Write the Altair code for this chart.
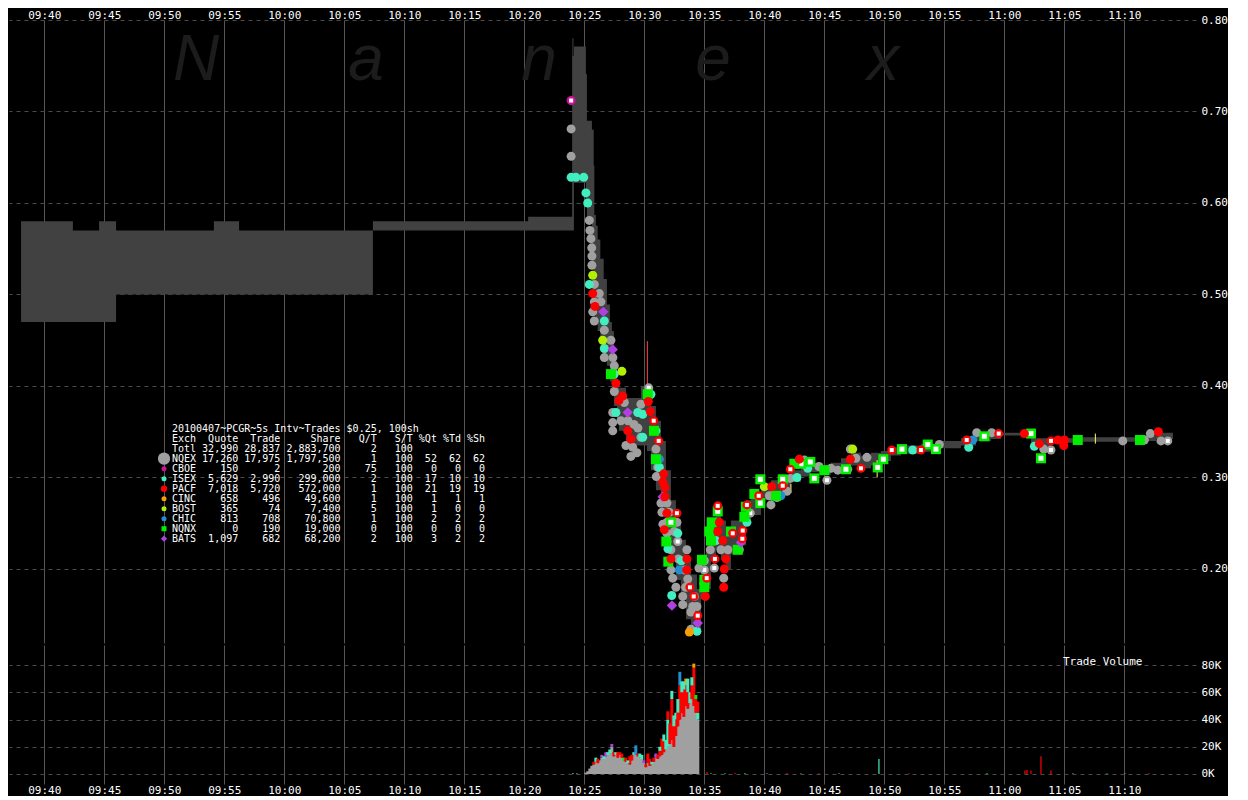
import altair as alt
import pandas as pd

# ------------------------------------------------------------------ data
EXCHANGES = ["NQEX", "CBOE", "ISEX", "PACF", "CINC", "BOST", "CHIC", "NQNX", "BATS"]

# NBBO band (step-after): time, low, high
band_times = ["09:38:04", "09:42:23", "09:44:34", "09:45:59", "09:54:08", "09:56:14", "10:07:23", "10:20:19",
              "10:23:59", "10:24:08", "10:24:23", "10:24:43", "10:25:08", "10:25:13", "10:25:38", "10:25:47",
              "10:25:50", "10:25:58", "10:26:07", "10:26:20", "10:26:37", "10:26:53", "10:27:08", "10:27:18",
              "10:27:28", "10:27:43", "10:27:53", "10:28:28", "10:29:08", "10:29:43", "10:30:13", "10:30:33",
              "10:30:58", "10:31:23", "10:31:48", "10:32:13", "10:32:38", "10:33:03", "10:33:28", "10:33:53",
              "10:34:23", "10:34:43", "10:35:08", "10:35:33", "10:35:58", "10:36:23", "10:36:48", "10:37:13",
              "10:38:03", "10:38:28", "10:38:53", "10:39:43", "10:40:33", "10:41:23", "10:42:13", "10:43:03",
              "10:43:53", "10:44:43", "10:45:33", "10:46:23", "10:47:13", "10:48:03", "10:48:53", "10:49:43",
              "10:50:33", "10:51:23", "10:53:03", "10:54:43", "10:56:23", "10:57:38", "10:58:53", "10:59:43",
              "11:02:13", "11:03:53", "11:06:23", "11:11:23", "11:12:38", "11:14:03"]
band_high = [0.58, 0.57, 0.58, 0.57, 0.58, 0.57, 0.58, 0.585,
             0.761, 0.771, 0.771, 0.771, 0.741, 0.690, 0.680, 0.641, 0.587, 0.575,
             0.560, 0.539, 0.517, 0.489, 0.470, 0.460, 0.427, 0.405, 0.398, 0.387,
             0.387, 0.400, 0.389, 0.378, 0.362, 0.340, 0.308, 0.275, 0.254, 0.232,
             0.210, 0.194, 0.178, 0.215, 0.221, 0.253, 0.264, 0.253, 0.243, 0.253,
             0.259, 0.275, 0.281, 0.291, 0.297, 0.299, 0.308, 0.316, 0.316, 0.313,
             0.316, 0.321, 0.327, 0.324, 0.327, 0.329, 0.333, 0.335, 0.337, 0.340,
             0.343, 0.348, 0.349, 0.349, 0.343, 0.343, 0.344, 0.346, 0.349, 0.349]
band_low = [0.47, 0.47, 0.47, 0.50, 0.50, 0.50, 0.57, 0.57,
            0.570, 0.622, 0.622, 0.622, 0.600, 0.579, 0.530, 0.503, 0.481, 0.470,
            0.460, 0.449, 0.432, 0.422, 0.405, 0.389, 0.378, 0.362, 0.351, 0.340,
            0.335, 0.335, 0.329, 0.308, 0.286, 0.264, 0.243, 0.210, 0.188, 0.167,
            0.145, 0.134, 0.129, 0.167, 0.178, 0.210, 0.221, 0.210, 0.199, 0.216,
            0.226, 0.253, 0.259, 0.275, 0.281, 0.284, 0.295, 0.301, 0.306, 0.303,
            0.306, 0.308, 0.313, 0.310, 0.313, 0.318, 0.324, 0.326, 0.328, 0.332,
            0.335, 0.340, 0.342, 0.346, 0.333, 0.338, 0.339, 0.340, 0.342, 0.342]

# trades per exchange: (time, price, flagged-with-white-centre)
trades_nqex = [
    ("10:23:54", 0.681, 0), ("10:23:54", 0.651, 0), ("10:25:25", 0.581, 0), ("10:25:28", 0.570, 0),
    ("10:25:33", 0.561, 0), ("10:25:37", 0.551, 0), ("10:25:38", 0.542, 0), ("10:25:38", 0.532, 0),
    ("10:25:50", 0.511, 0), ("10:26:15", 0.501, 0), ("10:25:50", 0.492, 0), ("10:26:23", 0.492, 0),
    ("10:25:42", 0.481, 0), ("10:25:50", 0.471, 0), ("10:26:40", 0.461, 0), ("10:27:13", 0.450, 0),
    ("10:26:40", 0.431, 0), ("10:27:23", 0.431, 0), ("10:27:30", 0.422, 0), ("10:27:30", 0.394, 0),
    ("10:28:20", 0.382, 0), ("10:27:22", 0.371, 0), ("10:27:22", 0.360, 0), ("10:27:22", 0.351, 0),
    ("10:28:38", 0.362, 0), ("10:29:08", 0.358, 0), ("10:29:28", 0.354, 0), ("10:29:43", 0.380, 0),
    ("10:29:43", 0.344, 0), ("10:29:02", 0.333, 0), ("10:28:53", 0.323, 0), ("10:28:03", 0.362, 0),
    ("10:28:28", 0.335, 0), ("10:29:23", 0.327, 0), ("10:30:22", 0.398, 1), ("10:30:58", 0.331, 0),
    ("10:31:07", 0.311, 0), ("10:31:23", 0.272, 0), ("10:31:53", 0.272, 0), ("10:32:43", 0.251, 0),
    ("10:31:53", 0.251, 0), ("10:31:53", 0.239, 0), ("10:32:47", 0.230, 1), ("10:31:53", 0.230, 0),
    ("10:32:13", 0.221, 0), ("10:33:33", 0.221, 0), ("10:32:50", 0.211, 0), ("10:32:13", 0.199, 0),
    ("10:32:22", 0.190, 0), ("10:33:37", 0.189, 0), ("10:32:38", 0.180, 0), ("10:33:12", 0.170, 0),
    ("10:33:12", 0.161, 0), ("10:34:23", 0.159, 0), ("10:34:02", 0.159, 0), ("10:33:53", 0.153, 0),
    ("10:33:53", 0.134, 0), ("10:35:00", 0.209, 0), ("10:35:00", 0.199, 1), ("10:34:33", 0.201, 0),
    ("10:35:30", 0.221, 0), ("10:36:23", 0.221, 0), ("10:36:58", 0.221, 0), ("10:35:50", 0.201, 1),
    ("10:36:37", 0.190, 0), ("10:37:55", 0.221, 0), ("10:38:50", 0.261, 1), ("10:40:33", 0.270, 0),
    ("10:40:25", 0.280, 0), ("10:42:10", 0.299, 0), ("10:43:20", 0.319, 0), ("10:45:13", 0.297, 1),
    ("10:46:07", 0.308, 0), ("10:46:57", 0.309, 0), ("10:47:10", 0.331, 0), ("10:47:38", 0.321, 0),
    ("10:54:35", 0.336, 0), ("10:57:42", 0.349, 0), ("10:58:57", 0.349, 0), ("11:03:17", 0.331, 0),
    ("11:03:53", 0.330, 1), ("11:09:52", 0.340, 0), ("11:11:40", 0.341, 0), ("11:12:10", 0.348, 0),
    ("11:13:37", 0.340, 1), ("11:13:03", 0.340, 0), ("10:41:03", 0.278, 0), ("10:41:53", 0.285, 0),
    ("10:44:33", 0.312, 0), ("10:45:33", 0.310, 0), ("10:48:33", 0.322, 0),
    ("10:31:28", 0.262, 0), ("10:31:33", 0.249, 0), ("10:32:05", 0.262, 0), ("10:32:30", 0.241, 0),
    ("10:33:20", 0.199, 0), ("10:33:27", 0.180, 0), ("10:34:10", 0.170, 0), ("10:31:00", 0.301, 0),
]
trades_cboe = [("10:23:54", 0.712, 1)]
trades_isex = [
    ("10:23:54", 0.628, 0), ("10:24:18", 0.628, 0), ("10:24:57", 0.628, 0), ("10:25:08", 0.611, 0),
    ("10:25:17", 0.600, 0), ("10:25:25", 0.511, 0), ("10:26:40", 0.471, 0), ("10:26:40", 0.441, 0),
    ("10:27:30", 0.413, 0), ("10:27:38", 0.371, 0), ("10:29:52", 0.369, 0), ("10:29:27", 0.371, 0),
    ("10:29:52", 0.344, 0), ("10:30:33", 0.391, 0), ("10:30:58", 0.351, 0), ("10:31:15", 0.311, 0),
    ("10:32:47", 0.239, 0), ("10:32:17", 0.171, 0), ("10:34:23", 0.132, 0), ("10:35:58", 0.231, 0),
    ("10:38:33", 0.251, 0), ("10:42:43", 0.300, 0), ("10:43:37", 0.310, 0), ("10:52:22", 0.330, 0),
    ("10:57:02", 0.333, 0), ("11:02:30", 0.334, 0), ("10:31:58", 0.222, 0), ("10:33:05", 0.209, 0),
]
trades_pacf = [
    ("10:25:42", 0.501, 0), ("10:25:53", 0.487, 0), ("10:27:38", 0.403, 0), ("10:28:12", 0.389, 0),
    ("10:28:37", 0.351, 0), ("10:28:53", 0.342, 0), ("10:27:53", 0.384, 0), ("10:30:20", 0.383, 0),
    ("10:30:30", 0.372, 0), ("10:30:47", 0.362, 1), ("10:31:12", 0.340, 1), ("10:31:37", 0.304, 0),
    ("10:31:33", 0.295, 0), ("10:31:43", 0.289, 0), ("10:31:43", 0.279, 0), ("10:31:53", 0.261, 0),
    ("10:32:43", 0.261, 1), ("10:31:40", 0.243, 0), ("10:32:13", 0.211, 0), ("10:33:33", 0.211, 0),
    ("10:33:32", 0.199, 0), ("10:33:48", 0.180, 1), ("10:34:07", 0.170, 1), ("10:34:27", 0.149, 1),
    ("10:35:12", 0.190, 1), ("10:35:05", 0.170, 0), ("10:36:07", 0.269, 1), ("10:36:15", 0.251, 0),
    ("10:36:07", 0.241, 0), ("10:36:32", 0.231, 0), ("10:36:48", 0.211, 0), ("10:35:53", 0.211, 1),
    ("10:36:40", 0.200, 0), ("10:36:37", 0.180, 0), ("10:37:22", 0.239, 1), ("10:38:12", 0.242, 1),
    ("10:38:10", 0.233, 1), ("10:38:33", 0.270, 1), ("10:39:32", 0.280, 1), ("10:40:37", 0.290, 0),
    ("10:41:32", 0.291, 1), ("10:42:10", 0.309, 1), ("10:42:55", 0.320, 0), ("10:47:10", 0.320, 0),
    ("10:48:03", 0.310, 1), ("10:50:37", 0.330, 1), ("10:53:03", 0.330, 1), ("10:56:52", 0.341, 1),
    ("10:59:32", 0.348, 1), ("11:01:40", 0.348, 0), ("11:02:55", 0.337, 0), ("11:03:53", 0.340, 1),
    ("11:04:28", 0.341, 0), ("11:05:00", 0.341, 0), ("11:04:57", 0.335, 0), ("11:12:50", 0.350, 0),
]
trades_cinc = [("10:33:45", 0.131, 0)]
trades_bost = [("10:25:42", 0.521, 0), ("10:26:32", 0.450, 0), ("10:28:08", 0.416, 0),
               ("10:40:00", 0.290, 0), ("10:47:22", 0.331, 0)]
trades_chic = [("10:31:15", 0.320, 0), ("10:32:55", 0.199, 0), ("10:41:23", 0.280, 0), ("10:57:22", 0.341, 0)]
trades_nqnx = [
    ("10:27:13", 0.413, 0), ("10:30:17", 0.391, 0), ("10:30:48", 0.351, 0), ("10:30:58", 0.320, 0),
    ("10:32:13", 0.251, 1), ("10:34:48", 0.210, 0), ("10:35:00", 0.188, 0), ("10:35:00", 0.180, 0),
    ("10:36:07", 0.263, 1), ("10:35:37", 0.251, 0), ("10:35:25", 0.241, 0), ("10:35:33", 0.231, 0),
    ("10:37:13", 0.241, 0), ("10:37:47", 0.221, 0), ("10:38:28", 0.268, 0), ("10:38:20", 0.257, 0),
    ("10:39:40", 0.272, 1), ("10:39:10", 0.282, 0), ("10:39:40", 0.298, 1), ("10:40:58", 0.280, 0),
    ("10:41:32", 0.298, 1), ("10:43:03", 0.315, 1), ("10:42:30", 0.315, 0), ("10:43:50", 0.317, 1),
    ("10:44:10", 0.299, 1), ("10:45:00", 0.308, 0), ("10:46:48", 0.309, 1), ("10:49:27", 0.311, 1),
    ("10:49:55", 0.320, 1), ("10:51:28", 0.331, 1), ("10:53:37", 0.336, 1), ("10:54:18", 0.331, 1),
    ("10:58:20", 0.345, 1), ("11:02:13", 0.348, 1), ("11:03:03", 0.321, 1), ("11:06:07", 0.341, 0),
    ("11:11:18", 0.341, 0), ("10:31:50", 0.230, 0), ("10:32:00", 0.208, 0),
]
trades_bats = [("10:26:35", 0.481, 0), ("10:27:22", 0.440, 0), ("10:28:37", 0.371, 0), ("10:31:32", 0.279, 0),
               ("10:32:18", 0.160, 0), ("10:34:27", 0.141, 0), ("10:38:03", 0.229, 0)]

# thin high/low spikes
spike_times = ["10:24:03", "10:30:15", "10:42:13", "10:49:24", "11:07:35"]
spike_lo = [0.760, 0.398, 0.283, 0.300, 0.337]
spike_hi = [0.780, 0.449, 0.293, 0.319, 0.348]
spike_kind = ["band", "PACF", "other", "other", "other"]

# trade volume, 10-second buckets starting 10:25:00 (thousands of shares)
vol_start = "10:25:00"
vol_nqex = [1, 2, 4, 6, 7, 9, 8, 10, 12, 11, 13, 14, 15, 20, 13, 14, 12, 14, 12, 10,
            9, 8, 7, 10, 14, 14, 13, 12, 11, 8, 5, 8, 6, 7, 9, 12, 11, 13, 14, 16,
            18, 20, 22, 25, 20, 28, 35, 40, 45, 42, 50, 48, 52, 55, 50, 45, 40]
extra_idx = [4, 5, 6, 8, 10, 11, 14, 15, 16, 17, 18, 19, 20, 22, 23, 24, 25, 26, 27, 30,
             31, 32, 33, 34, 35, 36, 37, 38, 39, 40, 41, 42, 43, 44, 45, 45, 46, 47, 47, 48,
             49, 50, 50, 51, 52, 53, 54, 55, 55, 56,
             9, 12, 13, 21, 28, 29, 37, 39, 41, 43, 44, 46, 48, 49, 51, 53, 54, 56]
extra_exch = ["PACF", "ISEX", "PACF", "BATS", "BATS", "ISEX", "PACF", "ISEX", "PACF", "PACF",
              "PACF", "NQNX", "PACF", "PACF", "PACF", "ISEX", "CHIC", "PACF", "ISEX", "PACF",
              "PACF", "PACF", "ISEX", "PACF", "BATS", "PACF", "PACF", "PACF", "PACF", "ISEX",
              "ISEX", "PACF", "PACF", "PACF", "PACF", "ISEX", "PACF", "PACF", "CHIC", "PACF",
              "PACF", "PACF", "CINC", "PACF", "ISEX", "PACF", "PACF", "PACF", "NQNX", "ISEX",
              "ISEX", "ISEX", "BATS", "ISEX", "ISEX", "BATS", "ISEX", "ISEX", "PACF", "ISEX",
              "ISEX", "ISEX", "ISEX", "ISEX", "ISEX", "ISEX", "CINC", "PACF"]
extra_k = [2, 3, 3, 2, 3, 2, 3, 2, 4, 2, 3, 2, 3, 6, 4, 2, 7, 2, 3, 2,
           7, 5, 2, 3, 3, 3, 4, 12, 8, 7, 20, 15, 30, 15, 12, 5, 10, 25, 10, 15,
           20, 15, 5, 12, 8, 10, 28, 10, 3, 5,
           2, 3, 2, 2, 3, 2, 3, 5, 6, 6, 8, 10, 8, 6, 10, 6, 3, 8]
small_times = ["10:24:00", "10:24:20", "10:35:10", "10:35:30", "10:36:40", "10:37:30", "10:38:20", "10:40:10",
               "10:41:50", "10:43:00", "10:44:30", "10:46:10", "10:49:30", "10:52:00", "10:58:30", "11:01:40",
               "11:01:50", "11:02:10", "11:03:00", "11:03:50", "11:05:40", "11:08:30", "11:10:00", "11:12:00"]
small_k = [0.8, 0.5, 1.5, 0.8, 0.5, 1.0, 0.8, 0.8, 1.0, 0.6, 0.5, 0.5, 11.0, 0.5, 0.8, 2.5,
           3.0, 2.5, 13.0, 2.5, 0.5, 0.6, 0.5, 0.8]
small_exch = ["ISEX", "ISEX", "PACF", "NQNX", "ISEX", "PACF", "NQNX", "BATS", "PACF", "NQNX", "PACF", "NQEX",
              "ISEX", "PACF", "NQNX", "PACF", "PACF", "PACF", "PACF", "PACF", "NQEX", "NQNX", "NQEX", "PACF"]

# summary table
table_title = "20100407~PCGR~5s Intv~Trades $0.25, 100sh"
table_header = ["Exch", "Quote", "Trade", "Share", "Q/T", "S/T", "%Qt", "%Td", "%Sh"]
total_row = ["Totl", 32990, 28837, 2883700, 2, 100]
tab_quote = [17260, 150, 5629, 7018, 658, 365, 813, 0, 1097]
tab_trade = [17975, 2, 2990, 5720, 496, 74, 708, 190, 682]
tab_share = [1797500, 200, 299000, 572000, 49600, 7400, 70800, 19000, 68200]
tab_qt = [1, 75, 2, 1, 1, 5, 1, 0, 2]
tab_st = [100, 100, 100, 100, 100, 100, 100, 100, 100]
tab_pqt = [52, 0, 17, 21, 1, 1, 2, 0, 3]
tab_ptd = [62, 0, 10, 19, 1, 0, 2, 0, 2]
tab_psh = [62, 0, 10, 19, 1, 0, 2, 0, 2]

watermark = ["N", "a", "n", "e", "x"]

TICK_MINUTES = list(range(40, 131, 5))          # 09:40 ... 11:10
PRICE_TICKS = [0.20, 0.30, 0.40, 0.50, 0.60, 0.70, 0.80]
VOLUME_TICKS = [0, 20, 40, 60, 80]

# ------------------------------------------------------------------ styles / layout
COLORS = {"NQEX": "#a0a0a0", "CBOE": "#cc1199", "ISEX": "#40eec0", "PACF": "#ff0000", "CINC": "#f5a000",
          "BOST": "#b0f000", "CHIC": "#2090d0", "NQNX": "#00f000", "BATS": "#b040e0"}
SHAPES = {e: "circle" for e in EXCHANGES}
SHAPES["NQNX"] = "square"
SHAPES["BATS"] = "diamond"
SIZES = {e: 81 for e in EXCHANGES}
SIZES["NQNX"] = 100
SIZES["BATS"] = 110
WHITE_SIZES = {e: 16 for e in EXCHANGES}
WHITE_SIZES["NQNX"] = 25
LEG_SIZES = {e: 25 for e in EXCHANGES}
LEG_SIZES["NQEX"] = 150
LEG_SIZES["PACF"] = 40
LEG_SIZES["BATS"] = 40
SPIKE_COLORS = {"band": "#414141", "PACF": "#ff4a4a", "other": "#ffff66"}

X_DOMAIN = [37.06, 135.97]
P_DOMAIN = [0.1191, 0.80]
V_DOMAIN = [-7.34, 94.68]
PW, PH, VH = 1187, 623, 139
MONO = "DejaVu Sans Mono"
BAR_SPAN = 15 / 60.0      # drawn width of a 10-second bucket (overlaps the next one slightly)
SMALL_SPAN = 6 / 60.0


def tmin(s):
    h, m, sec = (int(v) for v in s.split(":"))
    return (h - 9) * 60 + m + sec / 60.0


# ------------------------------------------------------------------ frames
band_df = pd.DataFrame({"t": [tmin(s) for s in band_times], "hi": band_high, "lo": band_low})

TRADES = {"NQEX": trades_nqex, "ISEX": trades_isex, "BOST": trades_bost, "CINC": trades_cinc,
          "CHIC": trades_chic, "NQNX": trades_nqnx, "BATS": trades_bats, "PACF": trades_pacf,
          "CBOE": trades_cboe}
pts = []
for ex, lst in TRADES.items():
    for (ts, p, w) in lst:
        pts.append({"t": tmin(ts), "p": p, "col": COLORS[ex], "shp": SHAPES[ex], "sz": SIZES[ex]})
        if w:
            pts.append({"t": tmin(ts), "p": p, "col": "#ffffff", "shp": "square", "sz": WHITE_SIZES[ex]})
pts_df = pd.DataFrame(pts)

spike_df = pd.DataFrame({"t": [tmin(s) for s in spike_times], "lo": spike_lo, "hi": spike_hi,
                         "col": [SPIKE_COLORS[k] for k in spike_kind]})

rects = []
t0 = tmin(vol_start)
tops = {}
for i, g in enumerate(vol_nqex):
    a = t0 + i * 10 / 60.0
    rects.append({"t0": a, "t1": a + BAR_SPAN, "v0": 0, "v1": g, "col": COLORS["NQEX"]})
    tops[i] = g
for i, ex, k in zip(extra_idx, extra_exch, extra_k):
    a = t0 + i * 10 / 60.0
    rects.append({"t0": a, "t1": a + BAR_SPAN, "v0": tops[i], "v1": tops[i] + k, "col": COLORS[ex]})
    tops[i] += k
for ts, k, ex in zip(small_times, small_k, small_exch):
    a = tmin(ts)
    rects.append({"t0": a, "t1": a + SMALL_SPAN, "v0": 0, "v1": k, "col": COLORS[ex]})
vol_df = pd.DataFrame(rects)


def fmt_row(cells):
    widths = [4, 7, 7, 10, 6, 6, 4, 4, 4]
    out = str(cells[0]).ljust(4)
    for c, w in zip(cells[1:], widths[1:]):
        out += str(c).rjust(w)
    return out.replace(" ", "\u00a0")


lines = [table_title.replace(" ", "\u00a0"), fmt_row(table_header),
         fmt_row([total_row[0], f"{total_row[1]:,}", f"{total_row[2]:,}", f"{total_row[3]:,}",
                  total_row[4], total_row[5], "", "", ""])]
for j, ex in enumerate(EXCHANGES):
    lines.append(fmt_row([ex, f"{tab_quote[j]:,}", f"{tab_trade[j]:,}", f"{tab_share[j]:,}",
                          tab_qt[j], tab_st[j], tab_pqt[j], tab_ptd[j], tab_psh[j]]))
table_df = pd.DataFrame({"line": lines, "idx": list(range(len(lines)))})
table_df["px"] = 163
table_df["py"] = 409.3 + 10 * table_df["idx"]

leg_df = pd.DataFrame({"ex": EXCHANGES, "k": list(range(len(EXCHANGES)))})
leg_df["px"] = 155
leg_df["py"] = 438.7 + 10 * leg_df["k"]
leg_df["col"] = [COLORS[e] for e in EXCHANGES]
leg_df["shp"] = [SHAPES[e] for e in EXCHANGES]
leg_df["sz"] = [LEG_SIZES[e] for e in EXCHANGES]

wm_df = pd.DataFrame({"ch": watermark, "px": [187, 357, 530, 704, 874]})

# ------------------------------------------------------------------ scales / axes
xs = alt.Scale(domain=X_DOMAIN, nice=False, zero=False)
ps = alt.Scale(domain=P_DOMAIN, nice=False, zero=False)
vs = alt.Scale(domain=V_DOMAIN, nice=False, zero=False)

time_expr = ("(floor(datum.value/60)+9<10?'0':'')+(floor(datum.value/60)+9)+':'"
             "+(datum.value%60<10?'0':'')+(datum.value%60)")


def x_axis(orient):
    return alt.Axis(orient=orient, values=TICK_MINUTES, labelExpr=time_expr, grid=True,
                    gridColor="#555555", gridWidth=1, gridOpacity=1, domain=False, ticks=False,
                    labelColor="#ffffff", labelFont=MONO, labelFontSize=11, labelPadding=0,
                    labelOverlap=False, labelFlush=False, title=None)


price_axis = alt.Axis(orient="right", values=PRICE_TICKS, format=".2f", grid=True, gridColor="#4a4a4a",
                      gridDash=[4, 4], gridOpacity=1, domain=False, ticks=False, labelColor="#ffffff",
                      labelFont=MONO, labelFontSize=11, labelPadding=5, title=None)
vol_axis = alt.Axis(orient="right", values=VOLUME_TICKS, labelExpr="datum.value + 'K'", grid=True,
                    gridColor="#4a4a4a", gridDash=[4, 4], gridOpacity=1, domain=False, ticks=False,
                    labelColor="#ffffff", labelFont=MONO, labelFontSize=11, labelPadding=5, title=None)

X_TOP = alt.X("t:Q", scale=xs, axis=x_axis("top"))

# ------------------------------------------------------------------ price panel
wm_layer = alt.Chart(wm_df).mark_text(font="Liberation Sans", fontStyle="italic", fontSize=64,
                                      color="#1c1c1c", align="center", baseline="alphabetic").encode(
    x=alt.X("px:Q", scale=None), y=alt.value(60), text="ch:N")

band_layer = alt.Chart(band_df).mark_area(interpolate="step-after", color="#414141", opacity=1).encode(
    x=X_TOP, y=alt.Y("hi:Q", scale=ps, axis=price_axis), y2="lo:Q")

spike_layer = alt.Chart(spike_df).mark_rule(strokeWidth=1).encode(
    x=X_TOP, y=alt.Y("lo:Q", scale=ps, axis=price_axis), y2="hi:Q", color=alt.Color("col:N", scale=None))

dot_layer = alt.Chart(pts_df).mark_point(filled=True, opacity=1, strokeWidth=0).encode(
    x=X_TOP, y=alt.Y("p:Q", scale=ps, axis=price_axis),
    color=alt.Color("col:N", scale=None), shape=alt.Shape("shp:N", scale=None),
    size=alt.Size("sz:Q", scale=None))

table_layer = alt.Chart(table_df).mark_text(font=MONO, fontSize=10, color="#ffffff", align="left",
                                            baseline="middle").encode(
    x=alt.X("px:Q", scale=None), y=alt.Y("py:Q", scale=None), text="line:N")

leg_layer = alt.Chart(leg_df).mark_point(filled=True, opacity=1, strokeWidth=0).encode(
    x=alt.X("px:Q", scale=None), y=alt.Y("py:Q", scale=None),
    color=alt.Color("col:N", scale=None), shape=alt.Shape("shp:N", scale=None),
    size=alt.Size("sz:Q", scale=None))

price = alt.layer(wm_layer, band_layer, spike_layer, dot_layer, table_layer, leg_layer).properties(
    width=PW, height=PH)

# ------------------------------------------------------------------ volume panel
vol_layer = alt.Chart(vol_df).mark_rect(opacity=1).encode(
    x=alt.X("t0:Q", scale=xs, axis=x_axis("bottom")), x2="t1:Q",
    y=alt.Y("v0:Q", scale=vs, axis=vol_axis), y2="v1:Q",
    color=alt.Color("col:N", scale=None))

vol_title = alt.Chart(pd.DataFrame({"label": ["Trade Volume"]})).mark_text(
    font=MONO, fontSize=11, color="#ffffff", align="left", baseline="middle").encode(
    x=alt.value(1054), y=alt.value(17), text="label:N")

volume = alt.layer(vol_layer, vol_title).properties(width=PW, height=VH)

chart = alt.vconcat(price, volume, spacing=0).properties(
    background="#000000", padding=0).configure_view(stroke="transparent")

chart.save("out.html", embed_options={"renderer": "svg", "actions": False})
